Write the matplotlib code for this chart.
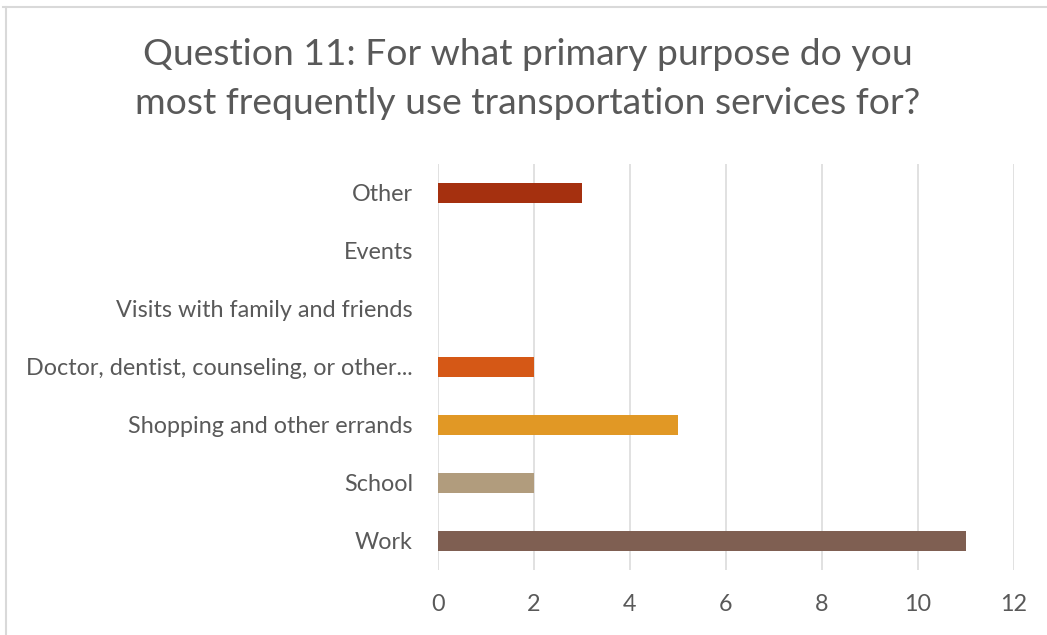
import matplotlib.pyplot as plt
from matplotlib.lines import Line2D

# Data
categories = ['Work', 'School', 'Shopping and other errands',
              'Doctor, dentist, counseling, or other...',
              'Visits with family and friends', 'Events', 'Other']
responses = [11, 2, 5, 2, 0, 0, 3]
colors = ['#7F5F52', '#B19C7D', '#E19825', '#D55816', '#C0C0C0', '#C0C0C0', '#A5300F']

plt.rcParams['font.family'] = ['Lato', 'DejaVu Sans']

fig = plt.figure(figsize=(10.47, 6.35), dpi=100)
ax = fig.add_axes([0.4183, 0.1024, 0.5502, 0.6394])

ax.barh(categories, responses, height=0.36, color=colors,
        edgecolor='none', zorder=3)

ax.set_xlim(0, 12)
ax.set_ylim(-0.5, len(categories) - 0.5)
ax.set_xticks(range(0, 13, 2))
ax.grid(axis='x', color='#D9D9D9', linewidth=1.1, zorder=0)
for s in ax.spines.values():
    s.set_visible(False)
ax.tick_params(length=0, labelsize=16.8, labelcolor='#595959')
ax.tick_params(axis='y', pad=18)
ax.tick_params(axis='x', pad=17)

fig.text(0.504, 0.8756, 'Question 11: For what primary purpose do you\n'
         'most frequently use transportation services for?',
         ha='center', va='center', fontsize=26.8, color='#595959',
         linespacing=1.58)

# Chart frame (partially visible)
fig.add_artist(Line2D([3 / 1047, 1], [1 - 6.5 / 635] * 2, color='#D9D9D9',
                      linewidth=1.5, transform=fig.transFigure))
fig.add_artist(Line2D([5.5 / 1047] * 2, [0, 1 - 6.5 / 635], color='#D9D9D9',
                      linewidth=1.5, transform=fig.transFigure))

fig.savefig('out.png', dpi=100)
